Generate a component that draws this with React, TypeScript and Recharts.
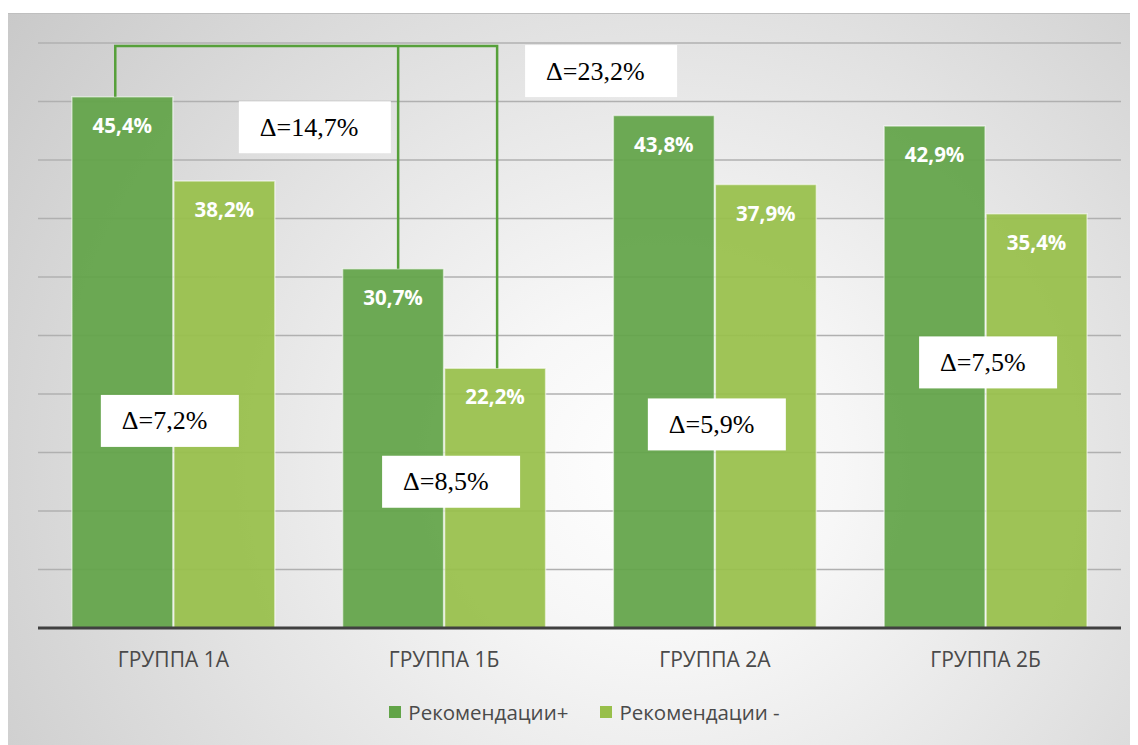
import React, { useRef } from 'react';
import { BarChart, Bar, XAxis, YAxis, CartesianGrid, Legend, LabelList } from 'recharts';

// Groups and the share of patients in each group (percent)
const categories = ['ГРУППА 1А', 'ГРУППА 1Б', 'ГРУППА 2А', 'ГРУППА 2Б'];
const recPlus = [45.4, 30.7, 43.8, 42.9];
const recMinus = [38.2, 22.2, 37.9, 35.4];
const seriesNames = ['Рекомендации+', 'Рекомендации -'];
const yTicks = [0, 5, 10, 15, 20, 25, 30, 35, 40, 45, 50];

// Colours
const DARK = '#62a448';
const LIGHT = '#98bf4a';
const BRACKET = '#56a03a';
const TEXT = '#4a4a4a';

// Placement of the Δ callouts: x offset from the light bar's left edge (px),
// vertical centre in axis units
const groupDeltaPlacement = [
  { dx: -73, yValue: 17.7 },
  { dx: -62.5, yValue: 12.5 },
  { dx: -67.5, yValue: 17.4 },
  { dx: -67, yValue: 22.7 },
];
const bracketTopValue = 49.75;
const innerDeltaPlacement = { dxFromFirstDark: 167, yValue: 42.8 };
const outerDeltaPlacement = { dxFromLight: 80.5, yValue: 47.6 };
// where each bracket leg meets its bar, as a share of the bar width
const legShare = { firstDark: 0.43, secondDark: 0.55, secondLight: 0.52 };

const fmt = (v: number) => v.toFixed(1).replace('.', ',') + '%';
const deltaText = (a: number, b: number) => 'Δ=' + fmt(Math.round((a - b) * 10) / 10);

type Geo = { x: number; y: number; w: number; base: number; ppu: number };

function readGeo(props: any): Geo {
  const vb = props.viewBox && props.viewBox.width != null ? props.viewBox : props;
  const x = Number(vb.x);
  const y = Number(vb.y);
  const w = Number(vb.width);
  const h = Number(vb.height);
  const v = Number(props.value);
  return { x, y, w, base: y + h, ppu: h / v };
}

function DeltaBox({ x, yCenter, text }: { x: number; yCenter: number; text: string }) {
  const w = 54 + 14 * text.length;
  const h = 52;
  return (
    <g>
      <rect x={x} y={yCenter - h / 2} width={w} height={h} fill="#ffffff" />
      <text
        x={x + 21}
        y={yCenter}
        dominantBaseline="central"
        fontFamily="'Liberation Serif', 'Times New Roman', serif"
        fontSize={26}
        fill="#000000"
      >
        {text}
      </text>
    </g>
  );
}

function ValueText({ g, value }: { g: Geo; value: number }) {
  return (
    <text
      x={g.x + g.w / 2}
      y={g.y + 28}
      textAnchor="middle"
      dominantBaseline="central"
      fontFamily="'Open Sans', sans-serif"
      fontWeight={700}
      fontSize={20.5}
      fill="#ffffff"
    >
      {fmt(value)}
    </text>
  );
}

export default function App() {
  const darkGeo = useRef<Record<number, Geo>>({}).current;
  const data = categories.map((name, i) => ({ name, plus: recPlus[i], minus: recMinus[i] }));

  const renderPlusLabel = (props: any) => {
    const g = readGeo(props);
    darkGeo[props.index] = g;
    return <ValueText g={g} value={Number(props.value)} />;
  };

  const renderMinusLabel = (props: any) => {
    const g = readGeo(props);
    const i = props.index as number;
    const yAt = (v: number) => g.base - v * g.ppu;
    const place = groupDeltaPlacement[i];
    const parts: React.ReactNode[] = [];
    parts.push(<ValueText key="v" g={g} value={Number(props.value)} />);

    if (i === 1 && darkGeo[0] && darkGeo[1]) {
      const a = darkGeo[0];
      const b = darkGeo[1];
      const top = yAt(bracketTopValue);
      const x0 = a.x + a.w * legShare.firstDark;
      const x1 = b.x + b.w * legShare.secondDark;
      const x2 = g.x + g.w * legShare.secondLight;
      const y0 = a.base - recPlus[0] * a.ppu;
      const y1 = b.base - recPlus[1] * b.ppu;
      const y2 = yAt(recMinus[1]);
      parts.push(
        <path
          key="bracket"
          d={`M${x0},${y0} V${top} H${x2} V${y2} M${x1},${top} V${y1}`}
          fill="none"
          stroke={BRACKET}
          strokeWidth={2.5}
        />
      );
      parts.push(
        <DeltaBox
          key="inner"
          x={a.x + innerDeltaPlacement.dxFromFirstDark}
          yCenter={yAt(innerDeltaPlacement.yValue)}
          text={deltaText(recPlus[0], recPlus[1])}
        />
      );
      parts.push(
        <DeltaBox
          key="outer"
          x={g.x + outerDeltaPlacement.dxFromLight}
          yCenter={yAt(outerDeltaPlacement.yValue)}
          text={deltaText(recPlus[0], recMinus[1])}
        />
      );
    }

    parts.push(
      <DeltaBox
        key="grp"
        x={g.x + place.dx}
        yCenter={yAt(place.yValue)}
        text={deltaText(recPlus[i], recMinus[i])}
      />
    );
    return <g>{parts}</g>;
  };

  const renderLegend = () => (
    <div
      style={{
        display: 'flex',
        justifyContent: 'center',
        alignItems: 'center',
        height: 30,
        paddingLeft: 10,
        fontFamily: "'Open Sans', sans-serif",
        fontSize: 20.5,
        color: TEXT,
      }}
    >
      {seriesNames.map((n, k) => (
        <div key={n} style={{ display: 'flex', alignItems: 'center', marginRight: k === 0 ? 32 : 0 }}>
          <span
            style={{
              display: 'inline-block',
              width: 12,
              height: 12,
              background: k === 0 ? DARK : LIGHT,
              marginRight: 7,
            }}
          />
          <span>{n}</span>
        </div>
      ))}
    </div>
  );

  return (
    <div style={{ width: 1130, paddingTop: 5, background: '#ffffff' }}>
      <div
        style={{
          width: 1130,
          height: 731,
          borderTop: '1px solid #bfbfbf',
          background:
            'radial-gradient(ellipse 72% 105% at 58% 62%, #ffffff 0%, #f7f7f7 22%, #e2e2e2 58%, #c9c9c9 100%)',
        }}
      >
        <BarChart
          width={1130}
          height={731}
          data={data}
          margin={{ top: 29, right: 17, left: 30, bottom: 18 }}
          barCategoryGap="12.5%"
          barGap={1}
        >
          <CartesianGrid vertical={false} stroke="#b0b0b0" strokeWidth={1.5} />
          <XAxis
            dataKey="name"
            axisLine={{ stroke: '#404040', strokeWidth: 3 }}
            tickLine={false}
            tick={{ fill: TEXT, fontSize: 21, fontFamily: "'Open Sans', sans-serif" }}
            tickMargin={18}
            height={69}
          />
          <YAxis hide domain={[0, 50]} ticks={yTicks} />
          <Legend verticalAlign="bottom" height={30} content={renderLegend} />
          <Bar
            dataKey="plus"
            name={seriesNames[0]}
            fill={DARK}
            fillOpacity={0.93}
            stroke="rgba(255,255,255,0.55)"
            strokeWidth={1.5}
            isAnimationActive={false}
          >
            <LabelList dataKey="plus" content={renderPlusLabel} />
          </Bar>
          <Bar
            dataKey="minus"
            name={seriesNames[1]}
            fill={LIGHT}
            fillOpacity={0.93}
            stroke="rgba(255,255,255,0.55)"
            strokeWidth={1.5}
            isAnimationActive={false}
          >
            <LabelList dataKey="minus" content={renderMinusLabel} />
          </Bar>
        </BarChart>
      </div>
    </div>
  );
}
